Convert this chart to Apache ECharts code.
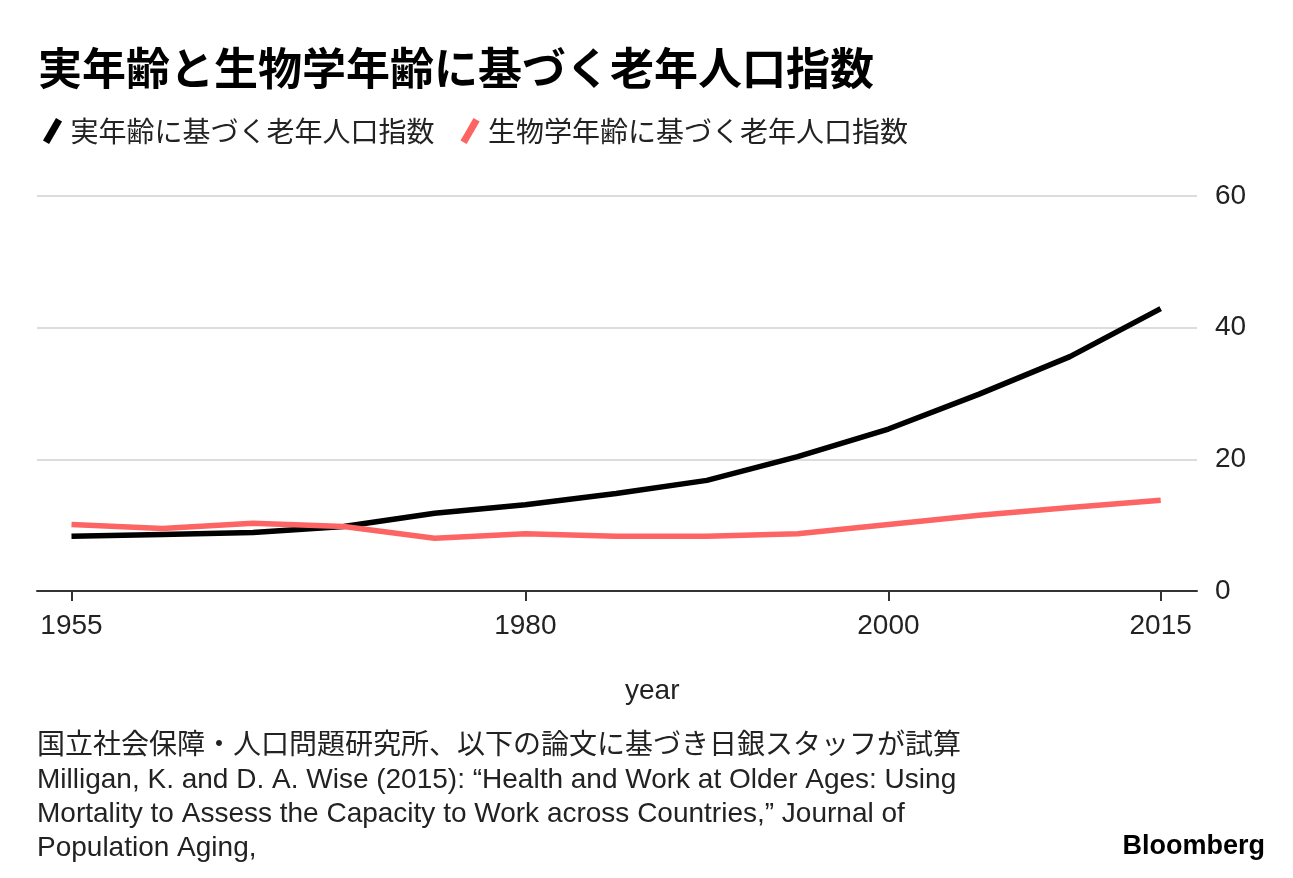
<!DOCTYPE html>
<html>
<head>
<meta charset="utf-8">
<script src="https://cdn.jsdelivr.net/npm/echarts@6/dist/echarts.min.js"></script>
<style>
html,body{margin:0;padding:0;background:#fff;}
#c{width:1293px;height:878px;}
</style>
</head>
<body>
<div id="c"></div>
<script>
const years = [1955,1960,1965,1970,1975,1980,1985,1990,1995,2000,2005,2010,2015];
const chronological = [8.3,8.6,8.9,9.8,11.8,13.1,14.8,16.8,20.4,24.6,29.9,35.6,42.9];
const biological = [10.1,9.5,10.3,9.8,8.0,8.7,8.3,8.3,8.7,10.1,11.5,12.7,13.8];
const xTickLabels = [1955,1980,2000,2015];
const seriesNames = ['実年齢に基づく老年人口指数','生物学年齢に基づく老年人口指数'];

const latin = '"Liberation Sans", "Noto Sans CJK JP", sans-serif';
const jp = '"Noto Sans CJK JP", "Liberation Sans", sans-serif';

const chart = echarts.init(document.getElementById('c'), null, {renderer:'canvas'});
const slash = 'path://M0,26 L15,0 L22,4 L7,30 Z';
chart.setOption({
  backgroundColor:'#fff',
  animation:false,
  title:{
    text:'実年齢と生物学年齢に基づく老年人口指数',
    left:33, top:41,
    textStyle:{fontFamily:jp, fontSize:44, fontWeight:'bold', color:'#000'}
  },
  legend:{
    left:38, top:112,
    itemWidth:22, itemHeight:26, itemGap:26,
    icon:slash,
    textStyle:{fontFamily:jp, fontSize:28, color:'#222', padding:[0,0,0,2]},
    data:seriesNames
  },
  grid:{left:37, right:96, top:196, bottom:287, containLabel:false},
  xAxis:{
    type:'value', min:1953.1, max:2017,
    axisLine:{show:true, onZero:false, lineStyle:{color:'#333', width:2}},
    axisTick:{show:true, customValues:xTickLabels, length:10, lineStyle:{color:'#333', width:2}},
    axisLabel:{customValues:xTickLabels, margin:21, fontFamily:latin, fontSize:28, color:'#222', formatter:v=>String(v)},
    splitLine:{show:false}
  },
  yAxis:{
    type:'value', position:'right', min:0, max:60, interval:20,
    axisLine:{show:false}, axisTick:{show:false},
    axisLabel:{margin:18, fontFamily:latin, fontSize:28, color:'#222'},
    splitLine:{show:true, lineStyle:{color:'#dcdcdc', width:2}}
  },
  series:[
    {name:seriesNames[0], type:'line', data:years.map((y,i)=>[y,chronological[i]]),
     symbol:'none', lineStyle:{color:'#000', width:5.5}, itemStyle:{color:'#000'}, z:3},
    {name:seriesNames[1], type:'line', data:years.map((y,i)=>[y,biological[i]]),
     symbol:'none', lineStyle:{color:'#fd6464', width:5.5}, itemStyle:{color:'#fd6464'}, z:4}
  ],
  graphic:[
    {type:'text', left:625, top:677, style:{text:'year', fontFamily:latin, fontSize:28, fill:'#222'}},
    {type:'text', left:37, top:729, style:{
      text:'国立社会保障・人口問題研究所、以下の論文に基づき日銀スタッフが試算\nMilligan, K. and D. A. Wise (2015): “Health and Work at Older Ages: Using\nMortality to Assess the Capacity to Work across Countries,” Journal of\nPopulation Aging,',
      fontFamily:latin, fontSize:28, lineHeight:34, fill:'#222'}},
    {type:'text', right:28, top:833, style:{text:'Bloomberg', fontFamily:latin, fontSize:27, fontWeight:'bold', fill:'#000'}}
  ]
});
</script>
</body>
</html>
